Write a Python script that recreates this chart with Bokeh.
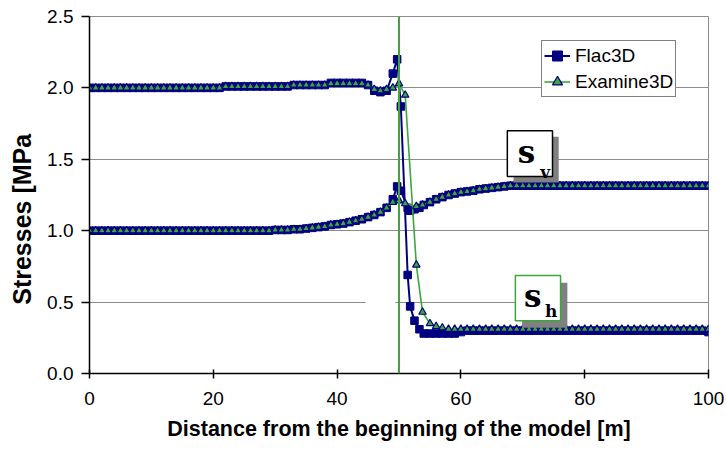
from bokeh.plotting import figure
from bokeh.models import (ColumnDataSource, Range1d, FixedTicker, NumeralTickFormatter,
                          Label, BoxAnnotation, Span, Legend, LegendItem)
from bokeh.embed import file_html
from bokeh.resources import INLINE

# ---------------- data ----------------
flac_x = [0, 1, 2, 3, 4, 5, 6, 7, 8, 9,
          10, 11, 12, 13, 14, 15, 16, 17, 18, 19,
          20, 21, 22, 23, 24, 25, 26, 27, 28, 29,
          30, 31, 32, 33, 34, 35, 36, 37, 38, 39,
          40, 41, 42, 43, 44, 45, 46, 47, 48,
          49, 49.7, 50.3, 51.4, 51.8, 52.5, 53.3,
          54, 55, 56, 57, 58, 59, 60, 61, 62, 63,
          64, 65, 66, 67, 68, 69, 70, 71, 72, 73,
          74, 75, 76, 77, 78, 79, 80, 81, 82, 83,
          84, 85, 86, 87, 88, 89, 90, 91, 92, 93,
          94, 95, 96, 97, 98, 99, 100]
flac_sh = [2.00, 2.00, 2.00, 2.00, 2.00, 2.00, 2.00, 2.00, 2.00, 2.00,
           2.00, 2.00, 2.00, 2.00, 2.00, 2.00, 2.00, 2.00, 2.00, 2.00,
           2.00, 2.00, 2.01, 2.01, 2.01, 2.01, 2.01, 2.01, 2.01, 2.01,
           2.01, 2.01, 2.01, 2.02, 2.02, 2.02, 2.02, 2.02, 2.02, 2.035,
           2.035, 2.035, 2.035, 2.035, 2.035, 2.02, 1.98, 1.97, 1.98,
           2.10, 2.20, 1.87, 0.69, 0.47, 0.37, 0.31,
           0.28, 0.28, 0.28, 0.28, 0.28, 0.28, 0.29, 0.30, 0.30, 0.30,
           0.30, 0.30, 0.30, 0.30, 0.30, 0.30, 0.30, 0.30, 0.30, 0.30,
           0.30, 0.30, 0.30, 0.30, 0.30, 0.30, 0.30, 0.30, 0.30, 0.30,
           0.30, 0.30, 0.30, 0.30, 0.30, 0.30, 0.30, 0.30, 0.30, 0.30,
           0.30, 0.30, 0.30, 0.30, 0.30, 0.30, 0.29]
flac_sv = [1.00, 1.00, 1.00, 1.00, 1.00, 1.00, 1.00, 1.00, 1.00, 1.00,
           1.00, 1.00, 1.00, 1.00, 1.00, 1.00, 1.00, 1.00, 1.00, 1.00,
           1.00, 1.00, 1.00, 1.00, 1.00, 1.00, 1.00, 1.00, 1.00, 1.00,
           1.005, 1.005, 1.005, 1.01, 1.01, 1.015, 1.02, 1.025, 1.03, 1.04,
           1.045, 1.05, 1.06, 1.07, 1.08, 1.095, 1.11, 1.13, 1.16,
           1.22, 1.31, 1.28, 1.16, 1.14, 1.15, 1.16,
           1.18, 1.20, 1.22, 1.235, 1.25, 1.26, 1.27, 1.275, 1.28, 1.29,
           1.295, 1.30, 1.305, 1.31, 1.315, 1.315, 1.315, 1.315, 1.315, 1.315,
           1.315, 1.315, 1.315, 1.315, 1.315, 1.315, 1.315, 1.315, 1.315, 1.315,
           1.315, 1.315, 1.315, 1.315, 1.315, 1.315, 1.315, 1.315, 1.315, 1.315,
           1.315, 1.315, 1.315, 1.315, 1.315, 1.315, 1.315]

exam_x = [0, 1, 2, 3, 4, 5, 6, 7, 8, 9,
          10, 11, 12, 13, 14, 15, 16, 17, 18, 19,
          20, 21, 22, 23, 24, 25, 26, 27, 28, 29,
          30, 31, 32, 33, 34, 35, 36, 37, 38, 39,
          40, 41, 42, 43, 44, 45, 46, 47, 48, 49, 50, 51,
          52.8, 53.8,
          55, 56, 57, 58, 59, 60, 61, 62, 63, 64,
          65, 66, 67, 68, 69, 70, 71, 72, 73, 74,
          75, 76, 77, 78, 79, 80, 81, 82, 83, 84,
          85, 86, 87, 88, 89, 90, 91, 92, 93, 94,
          95, 96, 97, 98, 99, 100]
exam_sh = [2.00, 2.00, 2.00, 2.00, 2.00, 2.00, 2.00, 2.00, 2.00, 2.00,
           2.00, 2.00, 2.00, 2.00, 2.00, 2.00, 2.00, 2.00, 2.00, 2.00,
           2.00, 2.00, 2.01, 2.01, 2.01, 2.01, 2.01, 2.01, 2.01, 2.01,
           2.01, 2.01, 2.01, 2.02, 2.02, 2.02, 2.02, 2.02, 2.02, 2.03,
           2.03, 2.03, 2.03, 2.03, 2.03, 2.02, 1.99, 1.98, 1.99, 2.00, 2.03, 1.95,
           0.76, 0.43,
           0.35, 0.33, 0.32, 0.31, 0.31, 0.31, 0.31, 0.31, 0.31, 0.31,
           0.31, 0.31, 0.31, 0.31, 0.31, 0.31, 0.31, 0.31, 0.31, 0.31,
           0.31, 0.31, 0.31, 0.31, 0.31, 0.31, 0.31, 0.31, 0.31, 0.31,
           0.31, 0.31, 0.31, 0.31, 0.31, 0.31, 0.31, 0.31, 0.31, 0.31,
           0.31, 0.31, 0.31, 0.31, 0.31, 0.31]
exam_sv = [1.00, 1.00, 1.00, 1.00, 1.00, 1.00, 1.00, 1.00, 1.00, 1.00,
           1.00, 1.00, 1.00, 1.00, 1.00, 1.00, 1.00, 1.00, 1.00, 1.00,
           1.00, 1.00, 1.00, 1.00, 1.00, 1.00, 1.00, 1.00, 1.00, 1.00,
           1.005, 1.005, 1.005, 1.01, 1.01, 1.015, 1.02, 1.025, 1.03, 1.04,
           1.045, 1.05, 1.06, 1.07, 1.08, 1.095, 1.11, 1.13, 1.16, 1.20, 1.21, 1.19,
           1.17, 1.18,
           1.20, 1.22, 1.235, 1.25, 1.26, 1.27, 1.275, 1.28, 1.29, 1.295,
           1.30, 1.305, 1.31, 1.315, 1.315, 1.315, 1.315, 1.315, 1.315, 1.315,
           1.315, 1.315, 1.315, 1.315, 1.315, 1.315, 1.315, 1.315, 1.315, 1.315,
           1.315, 1.315, 1.315, 1.315, 1.315, 1.315, 1.315, 1.315, 1.315, 1.315,
           1.315, 1.315, 1.315, 1.315, 1.315, 1.315]

x_ticks = [0, 20, 40, 60, 80, 100]
y_ticks = [0.0, 0.5, 1.0, 1.5, 2.0, 2.5]
face_x = 50
series_names = ["Flac3D", "Examine3D"]

NAVY = "#000080"
GREEN = "#3DA63D"
GRID = "#8c8c8c"
FONT = "Liberation Sans"

# ---------------- figure ----------------
p = figure(width=726, height=457, output_backend="svg", toolbar_location=None,
           x_range=Range1d(0, 100), y_range=Range1d(0, 2.5),
           min_border_left=89, min_border_right=18, min_border_top=16,
           min_border_bottom=84, background_fill_color="white",
           border_fill_color="white")
p.outline_line_color = GRID
p.outline_line_width = 1
p.xgrid.visible = False
p.ygrid.grid_line_color = GRID
p.ygrid.grid_line_width = 1.2

p.xaxis.ticker = FixedTicker(ticks=x_ticks)
p.yaxis.ticker = FixedTicker(ticks=y_ticks)
p.yaxis.formatter = NumeralTickFormatter(format="0.0")
for ax in (p.xaxis, p.yaxis):
    ax.axis_line_color = "black"
    ax.axis_line_width = 1.5
    ax.major_tick_line_color = "black"
    ax.major_tick_line_width = 1.5
    ax.minor_tick_line_color = None
    ax.major_label_text_font = FONT
    ax.major_label_text_font_size = "19px"
    ax.major_label_text_color = "black"
    ax.axis_label_text_font = FONT
    ax.axis_label_text_font_style = "bold"
    ax.axis_label_text_color = "black"
p.xaxis.major_tick_in = 4
p.xaxis.major_tick_out = 5
p.yaxis.major_tick_in = 0
p.yaxis.major_tick_out = 8
p.xaxis.major_label_standoff = 13
p.yaxis.major_label_standoff = 8
p.xaxis.axis_label = "Distance from the beginning of the model [m]"
p.xaxis.axis_label_text_font_size = "21.5px"
p.xaxis.axis_label_standoff = 9
# y title (cut off in the original); trailing no-break spaces shift it down like the original
p.yaxis.axis_label = "Stresses [MPa" + "\u00a0" * 7
p.yaxis.axis_label_text_font_size = "25px"
p.yaxis.axis_label_standoff = 8

# gap in the 0.5 grid line seen in the original
p.add_layout(BoxAnnotation(left=44.6, right=49.4, bottom=0.49, top=0.51,
                           fill_color="white", fill_alpha=1, line_color=None,
                           level="underlay"))

# ---------------- series ----------------
src_f = ColumnDataSource(dict(x=flac_x, sh=flac_sh, sv=flac_sv))
src_e = ColumnDataSource(dict(x=exam_x, sh=exam_sh, sv=exam_sv))

f_l1 = p.line("x", "sh", source=src_f, line_color=NAVY, line_width=2)
f_l2 = p.line("x", "sv", source=src_f, line_color=NAVY, line_width=2)
f_m1 = p.scatter("x", "sh", source=src_f, marker="square", size=7.5,
                 fill_color=NAVY, line_color=NAVY)
f_m2 = p.scatter("x", "sv", source=src_f, marker="square", size=7.5,
                 fill_color=NAVY, line_color=NAVY)

e_l1 = p.line("x", "sh", source=src_e, line_color=GREEN, line_width=1.6)
e_l2 = p.line("x", "sv", source=src_e, line_color=GREEN, line_width=1.6)
e_m1 = p.scatter("x", "sh", source=src_e, marker="triangle", size=7.5,
                 fill_color=GREEN, line_color=NAVY, line_width=1.2)
e_m2 = p.scatter("x", "sv", source=src_e, marker="triangle", size=7.5,
                 fill_color=GREEN, line_color=NAVY, line_width=1.2)

# tunnel face line
p.add_layout(Span(location=face_x, dimension="height", line_color=GREEN, line_width=2))

# ---------------- legend ----------------
legend = Legend(items=[LegendItem(label=series_names[0], renderers=[f_l1, f_m1]),
                       LegendItem(label=series_names[1], renderers=[e_l1, e_m1])],
                location=(452, 276), orientation="vertical",
                border_line_color="black", border_line_width=1.5,
                background_fill_color="white", background_fill_alpha=1,
                label_text_font=FONT, label_text_font_size="19px",
                label_text_color="black", glyph_width=26, glyph_height=25,
                label_height=25, label_standoff=5, padding=2, spacing=1, margin=0)
p.add_layout(legend)

# ---------------- sigma labels ----------------
def sigma_box(x0, x1, y0, y1, dx, dy, border, sub, sx, sy, bx, by):
    p.add_layout(BoxAnnotation(left=x0 + dx, right=x1 + dx, bottom=y0 - dy, top=y1 - dy,
                               fill_color="#808080", fill_alpha=1, line_color=None))
    p.add_layout(BoxAnnotation(left=x0, right=x1, bottom=y0, top=y1,
                               fill_color="white", fill_alpha=1,
                               line_color=border, line_width=1.5, line_alpha=1))
    p.add_layout(Label(x=sx, y=sy, text="s", text_font="DejaVu Serif",
                       text_font_style="bold", text_font_size="31px",
                       text_align="center", text_baseline="middle", text_color="black"))
    p.add_layout(Label(x=bx, y=by, text=sub, text_font="DejaVu Serif",
                       text_font_style="bold", text_font_size="17px",
                       text_align="center", text_baseline="middle", text_color="black"))

sigma_box(67.5, 74.8, 1.38, 1.70, 1.0, 0.042, "black", "v", 70.6, 1.55, 73.6, 1.41)
sigma_box(68.8, 76.1, 0.37, 0.686, 1.1, 0.05, GREEN, "h", 71.6, 0.54, 74.6, 0.44)

open("out.html", "w").write(file_html(p, INLINE))
